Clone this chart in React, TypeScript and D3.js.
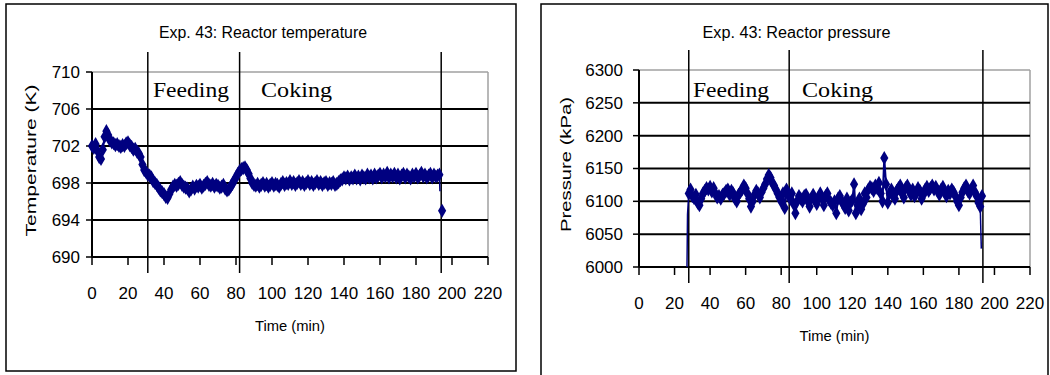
import React from 'react';
import * as d3 from 'd3';

// Temperature run, one reading per minute from t = 0
const tempTimes = d3.range(0, 194);
const tempValues = [
  702.0, 701.8, 702.2, 701.5, 700.8, 700.6, 701.6, 703.0, 703.6, 703.2,
  702.6, 702.4, 702.3, 702.1, 702.2, 702.0, 701.9, 702.1, 702.0, 702.3,
  702.4, 702.1, 701.9, 701.6, 701.7, 701.4, 701.2, 700.8, 700.0, 699.4,
  699.2, 698.9, 698.8, 698.6, 698.2, 698.0, 697.8, 697.5, 697.2, 697.0,
  696.8, 696.5, 696.4, 696.8, 697.3, 697.6, 697.8, 697.7, 697.9, 698.1,
  697.8, 697.6, 697.5, 697.4, 697.1, 697.3, 697.6, 697.4, 697.7, 697.6,
  697.8, 697.5, 697.7, 697.9, 698.1, 697.8, 697.7, 697.9, 697.6, 697.8,
  697.7, 697.5, 697.6, 697.8, 697.4, 697.2, 697.3, 697.6, 697.9, 698.3,
  698.6, 699.0, 699.3, 699.5, 699.6, 699.7, 699.4, 699.0, 698.5, 698.0,
  697.8, 697.7, 697.9, 697.6, 697.8, 698.0, 697.7, 697.9, 697.6, 697.8,
  698.0, 697.7, 697.9, 697.8, 697.6, 697.9, 698.1, 697.8, 698.0, 697.9,
  698.2, 697.9, 698.1, 697.8, 698.0, 698.2, 697.9, 698.1, 697.8, 698.0,
  698.2, 697.9, 698.1, 697.8, 698.0, 698.2, 697.9, 698.1, 697.8, 698.0,
  698.1, 697.8, 698.0, 697.9, 698.1, 697.8, 697.9, 698.1, 698.3, 698.4,
  698.6, 698.5, 698.7, 698.4, 698.6, 698.5, 698.8, 698.5, 698.7, 698.4,
  698.8, 698.6, 698.5, 698.9, 698.6, 698.8, 698.5, 698.9, 698.6, 698.8,
  699.0, 698.6, 698.9, 698.7, 699.1, 698.6, 698.9, 698.7, 699.0, 698.6,
  698.9, 698.5, 698.8, 699.0, 698.6, 698.9, 698.7, 698.5, 698.9, 698.7,
  699.0, 698.6, 698.8, 699.1, 698.7, 698.9, 698.6, 698.8, 699.0, 698.6,
  698.9, 698.7, 698.8, 698.9,
];
// shutdown transient (line only) and the last isolated reading
const tempTailTimes = [193, 193.3];
const tempTailValues = [698.9, 697.1];
const tempLastTimes = [194.5];
const tempLastValues = [695.0];

// Pressure run, one reading per minute from t = 28
const pressTimes = d3.range(28, 194);
const pressValues = [
  6112, 6118, 6108, 6105, 6110, 6098, 6094, 6104, 6112, 6116,
  6120, 6118, 6122, 6115, 6120, 6112, 6106, 6108, 6104, 6110,
  6112, 6116, 6118, 6110, 6116, 6112, 6104, 6100, 6110, 6114,
  6118, 6124, 6120, 6112, 6104, 6092, 6100, 6110, 6116, 6112,
  6106, 6114, 6120, 6126, 6134, 6140, 6136, 6128, 6124, 6118,
  6112, 6106, 6100, 6112, 6090, 6118, 6110, 6104, 6112, 6096,
  6082, 6100, 6108, 6104, 6100, 6108, 6110, 6100, 6092, 6104,
  6110, 6102, 6096, 6106, 6112, 6104, 6094, 6108, 6112, 6102,
  6098, 6094, 6100, 6082, 6104, 6108, 6100, 6096, 6090, 6104,
  6086, 6098, 6102, 6126, 6082, 6094, 6104, 6088, 6096, 6112,
  6106, 6118, 6122, 6120, 6116, 6124, 6120, 6128, 6112, 6100,
  6166, 6126, 6098, 6112, 6118, 6108, 6104, 6116, 6120, 6124,
  6112, 6106, 6120, 6124, 6116, 6110, 6118, 6108, 6112, 6120,
  6116, 6104, 6110, 6118, 6122, 6116, 6120, 6124, 6118, 6122,
  6116, 6110, 6118, 6122, 6114, 6108, 6116, 6112, 6118, 6114,
  6108, 6100, 6094, 6106, 6114, 6120, 6124, 6116, 6112, 6118,
  6124, 6114, 6108, 6098, 6092, 6108,
];
// start-up and shutdown transients, drawn as a plain line
const pressHeadTimes = [27, 27.3, 28];
const pressHeadValues = [6000, 6080, 6112];
const pressTailTimes = [192, 192.6];
const pressTailValues = [6092, 6028];

const xTicks = d3.range(0, 221, 20);
const tempTicks = [690, 694, 698, 702, 706, 710];
const pressTicks = [6000, 6050, 6100, 6150, 6200, 6250, 6300];

const NAVY = '#000080';
const SANS = '"Liberation Sans", Arial, sans-serif';
const SERIF = '"Liberation Serif", "Times New Roman", serif';

interface PanelProps {
  title: string;
  titleWidth: number;
  yTitle: string;
  yTitleLen: number;
  yTitleX: number;
  x0: number; x1: number; y0: number; y1: number;
  yDomain: [number, number];
  yTicks: number[];
  yLabelGap: number;
  times: number[]; values: number[];
  lineOnly: [number[], number[]][];
  extraPts: [number[], number[]];
  phases: number[];
  feedX: number; cokeX: number;
  frame: [number, number, number, number];
}

function Panel(p: PanelProps) {
  const x = d3.scaleLinear().domain([0, 220]).range([p.x0, p.x1]);
  const y = d3.scaleLinear().domain(p.yDomain).range([p.y1, p.y0]);
  const pts: [number, number][] = p.times.map((t, i) => [t, p.values[i]]);
  const line = d3.line<[number, number]>().x(d => x(d[0])).y(d => y(d[1]));
  const diamond = d3.symbol().type(d3.symbolDiamond).size(58)();
  const cx = (p.x0 + p.x1) / 2;
  const cy = (p.y0 + p.y1) / 2;
  const [fx, fy, fw, fh] = p.frame;

  return (
    <g>
      <rect x={fx} y={fy} width={fw} height={fh} fill="white" stroke="black" strokeWidth={1.5} />
      <text x={(fx + fw / 2) + 2} y={38} textAnchor="middle" fontFamily={SANS} fontSize={16}
        textLength={p.titleWidth} lengthAdjust="spacingAndGlyphs">{p.title}</text>

      {/* plot area border (grey top / right) */}
      <line x1={p.x0} x2={p.x1} y1={p.y0} y2={p.y0} stroke="#a0a0a0" strokeWidth={1.5} />
      <line x1={p.x1} x2={p.x1} y1={p.y0} y2={p.y1} stroke="#a0a0a0" strokeWidth={1.5} />

      {/* horizontal gridlines */}
      {p.yTicks.slice(1, -1).map(v => (
        <line key={v} x1={p.x0} x2={p.x1} y1={y(v)} y2={y(v)} stroke="black" strokeWidth={2} />
      ))}

      {/* axes */}
      <line x1={p.x0} x2={p.x1} y1={p.y1} y2={p.y1} stroke="black" strokeWidth={2} />
      <line x1={p.x0} x2={p.x0} y1={p.y0} y2={p.y1} stroke="black" strokeWidth={2} />
      {xTicks.map(t => (
        <g key={t}>
          <line x1={x(t)} x2={x(t)} y1={p.y1} y2={p.y1 + 8} stroke="black" strokeWidth={1.5} />
          <text x={x(t)} y={p.y1 + 42} textAnchor="middle" fontFamily={SANS} fontSize={17}>{t}</text>
        </g>
      ))}
      {p.yTicks.map(v => (
        <g key={v}>
          <line x1={p.x0 - 6} x2={p.x0} y1={y(v)} y2={y(v)} stroke="black" strokeWidth={1.5} />
          <text x={p.x0 - p.yLabelGap} y={y(v)} dy="0.35em" textAnchor="end" fontFamily={SANS} fontSize={17}>{v}</text>
        </g>
      ))}
      <text x={cx} y={p.y1 + 74} textAnchor="middle" fontFamily={SANS} fontSize={15}
        textLength={70} lengthAdjust="spacingAndGlyphs">Time (min)</text>
      <text transform={`translate(${p.yTitleX},${cy - 4}) rotate(-90)`} textAnchor="middle"
        fontFamily={SANS} fontSize={14} textLength={p.yTitleLen} lengthAdjust="spacingAndGlyphs">{p.yTitle}</text>

      {/* phase dividers */}
      {p.phases.map(t => (
        <line key={t} x1={x(t)} x2={x(t)} y1={p.y0 - 20} y2={p.y1 + 16} stroke="black" strokeWidth={1.5} />
      ))}
      <text x={p.feedX} y={97} fontFamily={SERIF} fontSize={21}
        textLength={76} lengthAdjust="spacingAndGlyphs">Feeding</text>
      <text x={p.cokeX} y={97} fontFamily={SERIF} fontSize={21}
        textLength={71} lengthAdjust="spacingAndGlyphs">Coking</text>

      {/* series */}
      {p.lineOnly.map(([ts, vs], i) => (
        <path key={i} d={line(ts.map((t, j) => [t, vs[j]] as [number, number])) || ''}
          fill="none" stroke={NAVY} strokeWidth={1.5} />
      ))}
      <path d={line(pts) || ''} fill="none" stroke={NAVY} strokeWidth={2} />
      {pts.map(([t, v], i) => (
        <path key={i} d={diamond || ''} transform={`translate(${x(t)},${y(v)})`} fill={NAVY} />
      ))}
      {p.extraPts[0].map((t, i) => (
        <path key={`e${i}`} d={diamond || ''} transform={`translate(${x(t)},${y(p.extraPts[1][i])})`} fill={NAVY} />
      ))}
    </g>
  );
}

export default function App() {
  return (
    <svg width={1050} height={375} style={{ position: 'absolute', left: 0, top: 0, background: 'white' }}>
      <rect x={0} y={0} width={1050} height={375} fill="white" />
      <Panel
        title="Exp. 43: Reactor temperature" titleWidth={208}
        yTitle="Temperature (K)" yTitleLen={152} yTitleX={36}
        x0={92} x1={488} y0={72} y1={257}
        yDomain={[690, 710]} yTicks={tempTicks} yLabelGap={12}
        times={tempTimes} values={tempValues}
        lineOnly={[[tempTailTimes, tempTailValues]]}
        extraPts={[tempLastTimes, tempLastValues]}
        phases={[31, 82, 194]}
        feedX={153} cokeX={261}
        frame={[6, 4, 510, 367]}
      />
      <Panel
        title="Exp. 43: Reactor pressure" titleWidth={188}
        yTitle="Pressure (kPa)" yTitleLen={135} yTitleX={571}
        x0={639} x1={1030} y0={70} y1={267}
        yDomain={[6000, 6300]} yTicks={pressTicks} yLabelGap={16}
        times={pressTimes} values={pressValues}
        lineOnly={[[pressHeadTimes, pressHeadValues], [pressTailTimes, pressTailValues]]}
        extraPts={[[], []]}
        phases={[28, 84.5, 193.5]}
        feedX={693} cokeX={802}
        frame={[541, 4, 507, 380]}
      />
    </svg>
  );
}
